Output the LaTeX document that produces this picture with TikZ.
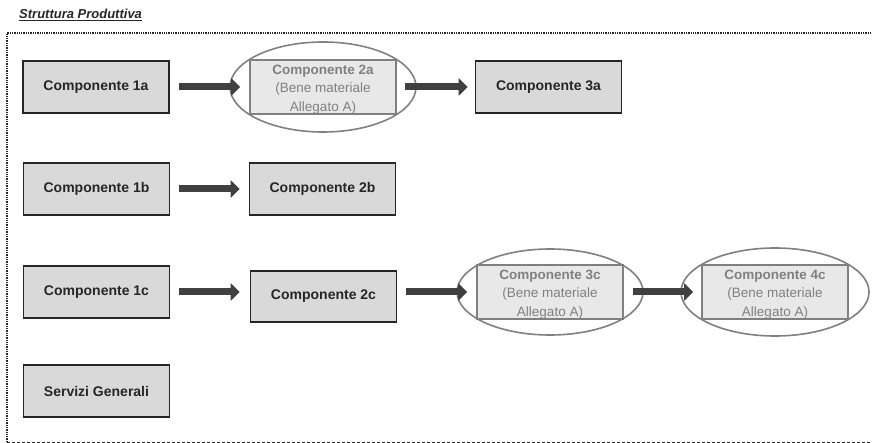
\documentclass[tikz,border=0pt]{standalone}
\usepackage{fontspec}
\setmainfont{Liberation Sans}
\usepackage{tikz}
\usetikzlibrary{arrows.meta,positioning}

\definecolor{boxfill}{HTML}{D9D9D9}
\definecolor{boxline}{HTML}{262626}
\definecolor{benefill}{HTML}{E8E8E8}
\definecolor{beneline}{HTML}{808080}
\definecolor{flowgray}{HTML}{404040}

\newcommand{\benetext}[1]{\rule{0pt}{14pt}\textbf{Componente #1}\\(Bene materiale\\Allegato A)}

\begin{document}
\begin{tikzpicture}[x=1pt, y=-1pt,
    % node attributes
    comp/.style = {
        shape=rectangle,
        draw=boxline,
        line width=1.6pt,
        fill=boxfill,
        text=boxline,
        inner sep=0pt,
        minimum width=146pt,
        minimum height=52pt,
        align=center,
        font=\fontsize{14}{18.5}\selectfont\bfseries},
    bene/.style = {
        comp,
        draw=beneline,
        fill=benefill,
        text=beneline,
        minimum height=51pt,
        font=\fontsize{13.5}{18.5}\selectfont},
    halo/.style = {draw=beneline, line width=1.6pt},
    flow/.style = {
        draw=flowgray,
        line width=7pt,
        -{Triangle[length=9pt,width=17pt]},
        shorten <=9pt,
        shorten >=9pt}]
    \useasboundingbox (0,0) rectangle (872,443);
    % frame
    \node[anchor=base west, inner sep=0pt, text=boxline,
        font=\fontsize{13}{15}\selectfont\bfseries\itshape]
        (title) at (19,19) {\underline{Struttura Produttiva}};
    \draw[densely dotted, line width=1.3pt, boxline] (7,442) -- (7,33) -- (880,33);
    \draw[dashed, dash pattern=on 3pt off 2pt, line width=1pt, boxline] (7,442) -- (880,442);
    % layout boxes
    \node[comp] (c1a) at (96,87) {Componente 1a};
    \node[bene] (c2a) at (323,87) {\benetext{2a}};
    \node[comp] (c3a) at (548.5,87) {Componente 3a};
    \node[comp] (c1b) at (96.5,189) {Componente 1b};
    \node[comp] (c2b) at (322.5,189) {Componente 2b};
    \node[comp] (c1c) at (96.5,292) {Componente 1c};
    \node[comp, minimum height=51pt] (c2c) at (323.5,296.5) {Componente 2c};
    \node[bene] (c3c) at (550,292) {\benetext{3c}};
    \node[bene] (c4c) at (775,292) {\benetext{4c}};
    \node[comp] (sg) at (96.5,391) {Servizi Generali};
    % ellipses
    \draw[halo] (c2a) ellipse [x radius=93, y radius=45];
    \draw[halo] (c3c) ellipse [x radius=93, y radius=43];
    \draw[halo] (c4c) ellipse [x radius=94, y radius=44];
    % arrows
    \draw[flow] (c1a) -- (c2a);
    \draw[flow, shorten <=8pt, shorten >=7pt] (c2a) -- (c3a);
    \draw[flow] (c1b) -- (c2b);
    \draw[flow, shorten >=10pt] (c1c.east) -- (c1c.east -| c2c.west);
    \draw[flow] (c3c.west -| c2c.east) -- (c3c.west);
    \draw[flow, shorten >=8pt] (c3c) -- (c4c);
\end{tikzpicture}
\end{document}
